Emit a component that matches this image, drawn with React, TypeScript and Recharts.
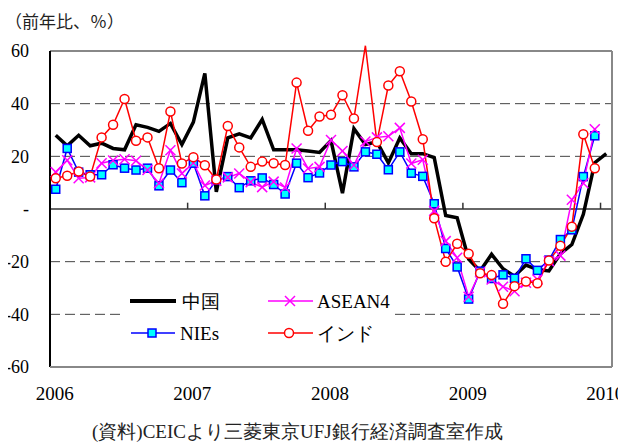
import { ComposedChart, Line, XAxis, YAxis, ReferenceLine, Legend } from 'recharts';

const SERIF = "'Liberation Serif', 'Times New Roman', Times, serif";
const CJK = "'Noto Sans CJK JP', sans-serif";

// 月次カテゴリ（2006年1月〜2010年1月）
const YEARS = ['2006', '2007', '2008', '2009', '2010'];
const MONTHS = YEARS.flatMap((y) =>
  Array.from({ length: 12 }, (_, m) => `${y}-${String(m + 1).padStart(2, '0')}`)
).slice(0, 49);

// 前年比（%）
const CHINA = [
  28, 24, 28, 24, 25, 23, 22.5, 32, 31, 29.5, 32.5, 24.5,
  33, 51.5, 6.5, 27, 28.5, 27, 34, 22.5, 22.5, 22.5, 22, 21.5,
  26, 6, 30.5, 24.5, 25.5, 17.5, 27, 21, 21, 19.5, -2.5, -3.3,
  -19, -23.5, -17.2, -22.7, -25.5, -21.3, -23, -23.5, -17, -13.5, -2, 17.6,
  21,
];
const NIES = [
  7.5, 23, 14, 13, 13, 16.8, 15.5, 14.8, 15.5, 8.8, 14.8, 10,
  17.4, 5, 10.9, 12.3, 8.1, 10.7, 11.8, 9.3, 5.7, 17.4, 11.9, 13.7,
  16.7, 18, 16, 21.7, 20.8, 14.9, 21.7, 13.6, 12.4, 2, -15, -22,
  -34.2, -23.6, -26.4, -25, -26.3, -18.9, -23.3, -19.4, -11.6, -7.9, 12.3, 27.8,
];
const ASEAN4 = [
  14, 18.5, 11.7, 12, 17.4, 18.4, 18.9, 18.3, 14.8, 9.8, 22.3, 13.5,
  17.5, 8.9, 10.7, 12, 13.5, 10.2, 8.3, 10.4, 8.2, 23, 15.4, 16,
  26.2, 22, 16.7, 25.6, 27.2, 27.6, 30.8, 17.3, 18.7, -0.7, -12.2, -18.5,
  -33.3, -24, -26.8, -29.5, -31.2, -28, -26.8, -19.8, -17.7, 3.5, 9.8, 30.3,
];
const INDIA = [
  11.7, 12.6, 14.2, 12.3, 27.2, 32, 41.8, 25.9, 27.2, 15.5, 37, 17.3,
  19.7, 16.6, 11.2, 31.5, 23.4, 16, 18, 17.4, 16.7, 48, 29.7, 35.1,
  35.8, 43.2, 34.4, 62, 25.4, 46.9, 52.3, 40.8, 26.5, -3.5, -20, -13.2,
  -17, -24.4, -25.1, -36, -29.3, -27.5, -28.2, -19.6, -14, -6.7, 28.4, 15.5,
];

const Y_TICKS = [-60, -40, -20, 0, 20, 40, 60];
const DASHED_LEVELS = [-40, -20, 20, 40];
const Y_MIN = -60;
const Y_MAX = 60;

const data = MONTHS.map((month, i) => ({
  month,
  t: i + 0.5,
  china: CHINA[i] ?? null,
  nies: NIES[i] ?? null,
  asean4: ASEAN4[i] ?? null,
  india: INDIA[i] ?? null,
}));

// 年ラベルは1月の位置、目盛りは年の境目
const yearLabelTicks = data.filter((d) => d.month.endsWith('-01')).map((d) => d.t);
const yearBounds = yearLabelTicks.slice(1).map((t) => t - 0.5);

const SquareDot = (p: any) => {
  const { cx, cy, value, index } = p;
  if (cx == null || cy == null || value == null) return <g key={`sq-${index}`} />;
  return (
    <rect key={`sq-${index}`} x={cx - 4} y={cy - 4} width={8} height={8}
      fill="#00ffff" stroke="#0000ff" strokeWidth={1.5} />
  );
};

const CrossDot = (p: any) => {
  const { cx, cy, value, index } = p;
  if (cx == null || cy == null || value == null) return <g key={`x-${index}`} />;
  return (
    <g key={`x-${index}`} stroke="#ff00ff" strokeWidth={1.5}>
      <line x1={cx - 5} y1={cy - 5} x2={cx + 5} y2={cy + 5} />
      <line x1={cx - 5} y1={cy + 5} x2={cx + 5} y2={cy - 5} />
    </g>
  );
};

const CircleDot = (p: any) => {
  const { cx, cy, value, index } = p;
  if (cx == null || cy == null || value == null || value > Y_MAX) return <g key={`c-${index}`} />;
  return (
    <circle key={`c-${index}`} cx={cx} cy={cy} r={4.5}
      fill="#ffffff" stroke="#ff0000" strokeWidth={1.5} />
  );
};

function LegendBox() {
  const textStyle = { fontFamily: SERIF, fontSize: 19, fill: '#000' };
  return (
    <svg width={275} height={80} style={{ display: 'block' }}>
      {/* 中国 */}
      <line x1={10} y1={26} x2={56} y2={26} stroke="#000" strokeWidth={4} />
      <text x={62} y={32.5} style={textStyle}>中国</text>
      {/* ASEAN4 */}
      <line x1={148} y1={26} x2={193} y2={26} stroke="#ff00ff" strokeWidth={1.5} />
      <g stroke="#ff00ff" strokeWidth={1.5}>
        <line x1={165} y1={21} x2={175} y2={31} />
        <line x1={165} y1={31} x2={175} y2={21} />
      </g>
      <text x={197} y={32.5} style={textStyle}>ASEAN4</text>
      {/* NIEs */}
      <line x1={11} y1={58} x2={55} y2={58} stroke="#0000ff" strokeWidth={1.5} />
      <rect x={28} y={54} width={8} height={8} fill="#00ffff" stroke="#0000ff" strokeWidth={1.5} />
      <text x={60} y={64.5} style={textStyle}>NIEs</text>
      {/* インド */}
      <line x1={148} y1={58} x2={193} y2={58} stroke="#ff0000" strokeWidth={1.5} />
      <circle cx={169} cy={58} r={4.5} fill="#fff" stroke="#ff0000" strokeWidth={1.5} />
      <text x={197} y={64.5} style={textStyle}>インド</text>
    </svg>
  );
}

export default function App() {
  return (
    <div style={{ position: 'relative', width: 626, height: 443, margin: '-8px 0 0 -8px', background: '#fff', fontFamily: SERIF, overflow: 'hidden' }}>
      <ComposedChart
        width={626}
        height={443}
        data={data}
        margin={{ top: 43, right: 14, bottom: 46, left: 0 }}
      >
        <XAxis
          type="number"
          dataKey="t"
          domain={[0, 49]}
          ticks={yearLabelTicks}
          interval={0}
          tickFormatter={(t: number) => MONTHS[Math.floor(t)].slice(0, 4)}
          axisLine={{ stroke: '#888', strokeWidth: 2 }}
          tickLine={false}
          tickSize={0}
          tickMargin={20}
          height={30}
          tick={{ fontFamily: SERIF, fontSize: 19, fill: '#000', dx: -1 }}
        />
        <YAxis
          type="number"
          domain={[Y_MIN, 63.04]}
          ticks={Y_TICKS}
          interval={0}
          tickFormatter={(v: number) => (v === 0 ? '-' : String(v))}
          axisLine={false}
          tickLine={false}
          tickSize={0}
          tickMargin={21}
          width={50}
          tick={{ fontFamily: SERIF, fontSize: 18, fill: '#000' }}
        />

        {DASHED_LEVELS.map((v) => (
          <ReferenceLine key={`g${v}`} y={v} stroke="#444" strokeDasharray="10 5" strokeWidth={1} />
        ))}
        <ReferenceLine y={0} stroke="#333" strokeWidth={1.5} />
        {yearBounds.map((b) => (
          <ReferenceLine key={`yt${b}`} segment={[{ x: b, y: 0 }, { x: b, y: 2.4 }]} stroke="#333" strokeWidth={1.5} />
        ))}
        {/* 枠線 */}
        <ReferenceLine y={Y_MAX} stroke="#888" strokeWidth={2} />
        <ReferenceLine segment={[{ x: 49, y: Y_MIN }, { x: 49, y: Y_MAX }]} stroke="#888" strokeWidth={2} />
        <ReferenceLine segment={[{ x: 0, y: Y_MIN }, { x: 0, y: Y_MAX }]} stroke="#000" strokeWidth={2} />

        <Line dataKey="china" name="中国" stroke="#000" strokeWidth={3.5} dot={false} isAnimationActive={false} />
        <Line dataKey="nies" name="NIEs" stroke="#0000ff" strokeWidth={1.5} dot={SquareDot} isAnimationActive={false} />
        <Line dataKey="asean4" name="ASEAN4" stroke="#ff00ff" strokeWidth={1.5} dot={CrossDot} isAnimationActive={false} />
        <Line dataKey="india" name="インド" stroke="#ff0000" strokeWidth={1.5} dot={CircleDot} isAnimationActive={false} />

        <Legend
          layout="horizontal"
          verticalAlign="middle"
          align="center"
          wrapperStyle={{ left: 120, top: 275, width: 275, height: 80, backgroundColor: '#fff' }}
          content={<LegendBox />}
        />
      </ComposedChart>

      <div style={{ position: 'absolute', left: 5, top: 12, fontFamily: CJK, fontSize: 17, lineHeight: '17px', color: '#222', whiteSpace: 'nowrap' }}>
        （前年比、％）
      </div>
      <div style={{ position: 'absolute', left: 92, top: 422, fontFamily: SERIF, fontSize: 19, lineHeight: '19px', color: '#222', whiteSpace: 'nowrap' }}>
        (資料)CEICより三菱東京UFJ銀行経済調査室作成
      </div>
    </div>
  );
}
